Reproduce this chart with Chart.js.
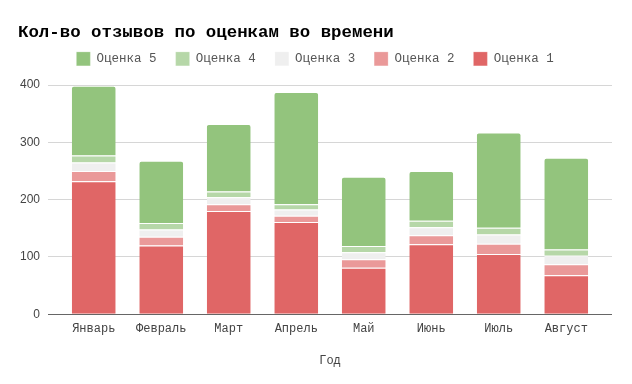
<!DOCTYPE html>
<html>
<head>
<meta charset="utf-8">
<script src="https://cdn.jsdelivr.net/npm/chart.js@4/dist/chart.umd.min.js"></script>
<style>
  body { margin: 0; background: #fff; }
  #wrap { width: 632px; height: 384px; }
</style>
</head>
<body>
<div id="wrap"><canvas id="otzyvyChart"></canvas></div>
<script>
// данные
const mesyatsy = ['Январь', 'Февраль', 'Март', 'Апрель', 'Май', 'Июнь', 'Июль', 'Август'];
const ocenka1 = [232, 120, 180, 161, 81, 122, 105, 68];
const ocenka2 = [18, 15, 12, 11, 15, 16, 18, 19];
const ocenka3 = [15, 13, 12, 11, 12, 14, 16, 15];
const ocenka4 = [12, 11, 10, 9, 11, 11, 12, 11];
const ocenka5 = [122, 109, 118, 196, 121, 87, 166, 160];
const yTicks = [0, 100, 200, 300, 400];

const mono = 'Liberation Mono, Courier New, monospace';
const sans = 'Liberation Sans, Arial, sans-serif';

const gridColor = function(c) {
    return c.tick && c.tick.value === 0 ? '#666666' : '#d6d6d6';
};

function seriya(label, data, color, radius) {
    return {
        label: label,
        data: data,
        backgroundColor: color,
        borderColor: '#ffffff',
        borderWidth: { top: 1, left: 0, right: 0, bottom: 0 },
        borderRadius: radius || 0,
        borderSkipped: 'bottom',
        barPercentage: 0.65,
        categoryPercentage: 1
    };
}

new Chart(document.getElementById('otzyvyChart'), {
    type: 'bar',
    data: {
        labels: mesyatsy,
        datasets: [
            seriya('Оценка 1', ocenka1, '#e06666'),
            seriya('Оценка 2', ocenka2, '#ea9999'),
            seriya('Оценка 3', ocenka3, '#efefef'),
            seriya('Оценка 4', ocenka4, '#b6d7a8'),
            seriya('Оценка 5', ocenka5, '#93c47d', { topLeft: 3, topRight: 3 })
        ]
    },
    options: {
        responsive: true,
        maintainAspectRatio: false,
        animation: false,
        layout: { padding: { left: 18, right: 20, top: 0, bottom: 12 } },
        plugins: {
            title: {
                display: true,
                text: 'Кол-во отзывов по оценкам во времени',
                align: 'start',
                color: '#000',
                font: { family: mono, size: 17.4, weight: 'bold' },
                padding: { top: 22, bottom: -10 }
            },
            legend: {
                reverse: true,
                labels: {
                    color: '#555',
                    font: { family: mono, size: 12.5 },
                    boxWidth: 14,
                    boxHeight: 14,
                    padding: 19
                }
            },
            // пустой отступ между легендой и областью графика
            subtitle: {
                display: true,
                text: '',
                weight: 500,
                font: { size: 1 },
                padding: { top: 0, bottom: 8 }
            },
            tooltip: { enabled: false }
        },
        scales: {
            x: {
                stacked: true,
                grid: { display: false, drawTicks: false },
                border: { display: false },
                ticks: { color: '#444', font: { family: mono, size: 12 }, padding: 7 },
                title: {
                    display: true,
                    text: 'Год',
                    color: '#444',
                    font: { family: mono, size: 12 },
                    padding: { top: 11, bottom: 4 }
                }
            },
            y: {
                stacked: true,
                min: 0,
                max: 400,
                afterBuildTicks: function(s) { s.ticks = yTicks.map(v => ({ value: v })); },
                afterFit: function(s) { s.width = 42; },
                grid: { color: gridColor, tickColor: gridColor, tickLength: 12, lineWidth: 1 },
                border: { display: false },
                ticks: { color: '#444', font: { family: sans, size: 12 }, padding: 8 }
            },
            yRight: {
                position: 'right',
                min: 0,
                max: 400,
                afterBuildTicks: function(s) { s.ticks = yTicks.map(v => ({ value: v })); },
                afterFit: function(s) { s.width = 12; },
                grid: { drawOnChartArea: false, color: gridColor, tickColor: gridColor, tickLength: 12 },
                border: { display: false },
                ticks: { display: false }
            }
        }
    }
});
</script>
</body>
</html>
